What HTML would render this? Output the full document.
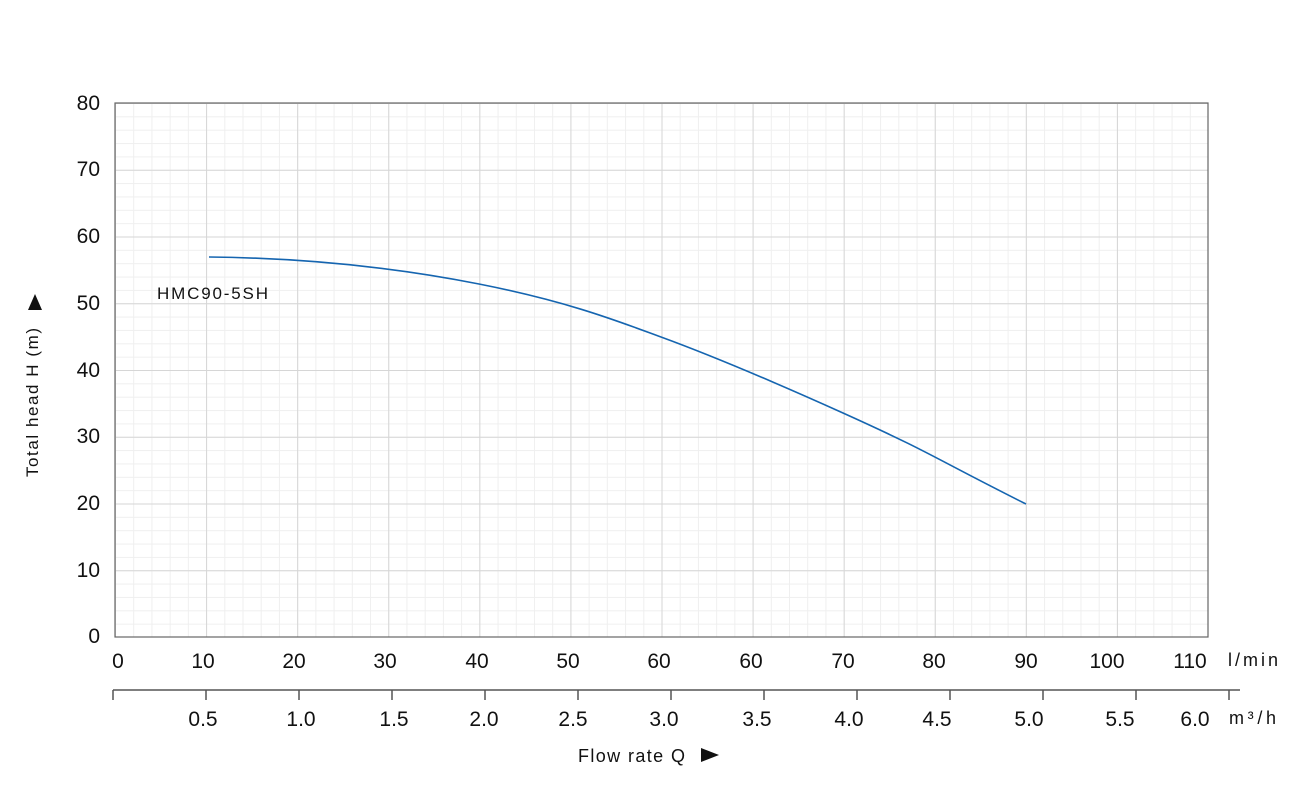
<!DOCTYPE html>
<html><head><meta charset="utf-8"><style>
body{margin:0;background:#fff}
text{font-family:"Liberation Sans","DejaVu Sans",sans-serif;fill:#111}
</style></head><body>
<svg width="1300" height="800" xmlns="http://www.w3.org/2000/svg">
<defs>
<pattern id="mn" x="115" y="103" width="18.2167" height="13.35" patternUnits="userSpaceOnUse">
<path d="M0.5,0V13.35M0,0.5H18.2167" stroke="#efefef" stroke-width="1" fill="none"/>
</pattern>
<pattern id="mj" x="115" y="103" width="91.0833" height="66.75" patternUnits="userSpaceOnUse">
<path d="M0.5,0V66.75M0,0.5H91.0833" stroke="#d6d6d6" stroke-width="1" fill="none"/>
</pattern>
</defs>
<rect x="115" y="103" width="1093" height="534" fill="url(#mn)"/>
<rect x="115" y="103" width="1093" height="534" fill="url(#mj)"/>
<rect x="115" y="103" width="1093" height="534" fill="none" stroke="#666" stroke-width="1.2"/>
<g font-size="21" text-anchor="end">
<text x="100" y="643">0</text><text x="100" y="577">10</text><text x="100" y="510">20</text><text x="100" y="443">30</text><text x="100" y="377">40</text><text x="100" y="310">50</text><text x="100" y="243">60</text><text x="100" y="176">70</text><text x="100" y="110">80</text>
</g>
<g font-size="21" text-anchor="middle">
<text x="118" y="668">0</text><text x="203" y="668">10</text><text x="294" y="668">20</text><text x="385" y="668">30</text><text x="477" y="668">40</text><text x="568" y="668">50</text><text x="659" y="668">60</text><text x="751" y="668">60</text><text x="843" y="668">70</text><text x="934" y="668">80</text><text x="1026" y="668">90</text><text x="1107" y="668">100</text><text x="1190" y="668">110</text>
</g>
<line x1="113" y1="690" x2="1240" y2="690" stroke="#555" stroke-width="1.5"/>
<path d="M113,690v10M206,690v10M299,690v10M392,690v10M485,690v10M578,690v10M671,690v10M764,690v10M857,690v10M950,690v10M1043,690v10M1136,690v10M1229,690v10" stroke="#555" stroke-width="1.5"/>
<g font-size="21" text-anchor="middle">
<text x="203" y="726">0.5</text><text x="301" y="726">1.0</text><text x="394" y="726">1.5</text><text x="484" y="726">2.0</text><text x="573" y="726">2.5</text><text x="664" y="726">3.0</text><text x="757" y="726">3.5</text><text x="849" y="726">4.0</text><text x="937" y="726">4.5</text><text x="1029" y="726">5.0</text><text x="1120" y="726">5.5</text><text x="1195" y="726">6.0</text>
</g>
<path d="M209,257 C300,258 388,266 479,284 S620,322 661,337 S752,372 843,413 S934,458 1026,504" fill="none" stroke="#1565b0" stroke-width="1.6"/>
<text x="157" y="299" font-size="17" textLength="111">HMC90-5SH</text>
<text x="1228" y="666" font-size="18" textLength="50">l/min</text>
<text x="1229" y="724" font-size="18" textLength="47">m³/h</text>
<text x="578" y="762" font-size="18" textLength="107">Flow rate Q</text>
<polygon points="701,748 701,762 719,755" fill="#111"/>
<text transform="translate(38,477) rotate(-90)" font-size="17" textLength="149">Total head H (m)</text>
<polygon points="28,310 42,310 35,294" fill="#111"/>
</svg>
</body></html>
